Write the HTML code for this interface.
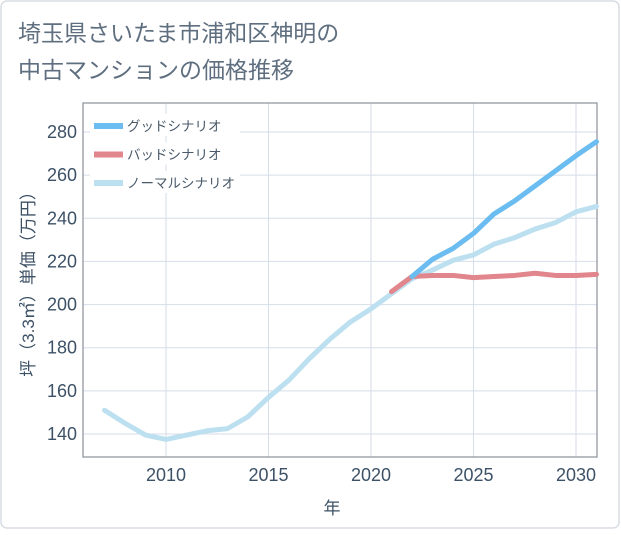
<!DOCTYPE html>
<html><head><meta charset="utf-8"><style>
body{margin:0;background:#fff;}
svg text{font-family:"Liberation Sans","Noto Sans CJK JP",sans-serif;}
</style></head><body>
<svg id="chart" width="621" height="530" xmlns="http://www.w3.org/2000/svg">
<rect x="1" y="1" width="618" height="527" rx="6" fill="#fff" stroke="#d8dde3" stroke-width="1.5"/>
<text x="18" y="41" font-size="23" fill="#5f6f80">埼玉県さいたま市浦和区神明の</text>
<text x="18" y="78" font-size="23" fill="#5f6f80">中古マンションの価格推移</text>
<g id="grid"></g>
<rect x="83" y="103" width="514" height="354" fill="none" stroke="#8a9096" stroke-width="1.2"/>
<g id="yticks"></g>
<g id="xticks"></g>
<g id="series"></g>
<text transform="translate(34,280) rotate(-90)" text-anchor="middle" font-size="17" fill="#3d5166">坪（3.3㎡）単価（万円）</text>
<text x="332" y="514" text-anchor="middle" font-size="17" fill="#3d5166">年</text>
<g id="legend"></g>
</svg>
<script>
const yTicks=[140,160,180,200,220,240,260,280];
const xTicks=[2010,2015,2020,2025,2030];
const normalYears=[2007,2008,2009,2010,2011,2012,2013,2014,2015,2016,2017,2018,2019,2020,2021,2022,2023,2024,2025,2026,2027,2028,2029,2030,2031];
const normalValues=[151,145,139.5,137.5,139.5,141.5,142.5,148,157,165,175,184,192,198,205,212,216,220.5,223,228,231,235,238,243,245.5];
const goodYears=[2022,2023,2024,2025,2026,2027,2028,2029,2030,2031];
const goodValues=[213,221,226,233,242,248,255,262,269,275.5];
const badYears=[2021,2022,2023,2024,2025,2026,2027,2028,2029,2030,2031];
const badValues=[206,213,213.5,213.5,212.5,213,213.5,214.5,213.5,213.5,214];
const legendLabels=["グッドシナリオ","バッドシナリオ","ノーマルシナリオ"];

const NS="http://www.w3.org/2000/svg";
const X0=83,X1=597,Y0=103,Y1=457;
function xs(y){return 166+(y-2010)*20.5;}
function ys(v){return 434-(v-140)*(302/140);}
function mk(tag,attrs,parent){const e=document.createElementNS(NS,tag);for(const k in attrs)e.setAttribute(k,attrs[k]);parent.appendChild(e);return e;}
const grid=document.getElementById('grid'),yt=document.getElementById('yticks'),xt=document.getElementById('xticks'),ser=document.getElementById('series'),leg=document.getElementById('legend');
yTicks.forEach(v=>{
  const l=mk('line',{x1:X0,x2:X1,y1:ys(v),y2:ys(v),stroke:'#d5dee8','stroke-width':1},grid);
  
  
  const t=mk('text',{x:77,y:ys(v)+6,'text-anchor':'end','font-size':18,fill:'#3d5166'},yt);
  t.textContent=v;
  
  
});
xTicks.forEach(v=>{
  const l=mk('line',{x1:xs(v),x2:xs(v),y1:Y0,y2:Y1,stroke:'#d5dee8','stroke-width':1},grid);
  
  
  const t=mk('text',{x:xs(v),y:481,'text-anchor':'middle','font-size':18,fill:'#3d5166'},xt);
  t.textContent=v;
  
  
});
function line(years,vals,color,name){
  const p=mk('polyline',{points:years.map((y,i)=>xs(y)+','+ys(vals[i])).join(' '),fill:'none',stroke:color,'stroke-width':5,'stroke-linejoin':'round','stroke-linecap':'round'},ser);
  
  
}
line(normalYears,normalValues,'#bde0f0','normal-scenario-line');
line(badYears,badValues,'#e0868c','bad-scenario-line');
line(goodYears,goodValues,'#6bbcf0','good-scenario-line');
const legColors=['#6bbcf0','#e0868c','#bde0f0'];
legendLabels.forEach((lab,i)=>{
  const y=126+i*28.5;
  const bg=mk('rect',{x:90,y:y-12,width:150,height:22,fill:'#fff'},leg);
  
  
  const s=mk('rect',{x:94,y:y-3,width:29,height:6,fill:legColors[i]},leg);
  
  
  const t=mk('text',{x:127,y:y+5,'font-size':13.5,fill:'#4a5a6a'},leg);
  t.textContent=lab;
  
  
});
</script>
</body></html>
